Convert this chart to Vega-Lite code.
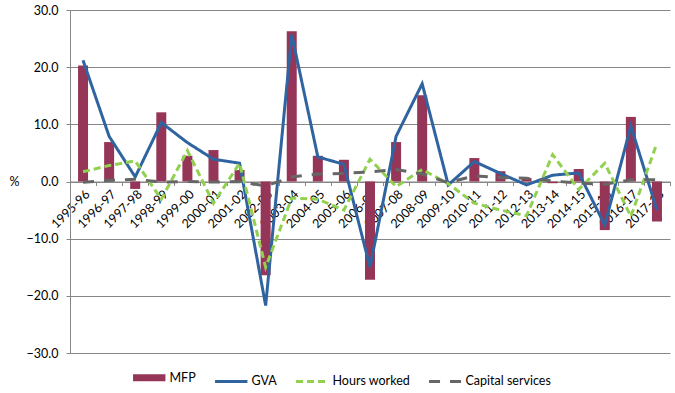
{
  "$schema": "https://vega.github.io/schema/vega-lite/v6.json",
  "width": 600,
  "height": 343,
  "autosize": {"type": "none"},
  "padding": {"left": 70, "top": 10, "right": 5, "bottom": 40},
  "config": {
    "font": "Lato",
    "view": {"stroke": null},
    "axis": {"labelFont": "Lato", "labelFontSize": 12.5, "labelColor": "#000000", "titleFont": "Lato", "titleFontWeight": "normal", "titleFontSize": 12.5, "titleColor": "#000000"},
    "legend": {"labelFont": "Lato", "labelFontSize": 12.5, "labelColor": "#000000"}
  },
  "data": {
    "values": [
      {"year": "1995-96", "series": "MFP", "value": 20.3},
      {"year": "1996-97", "series": "MFP", "value": 6.9},
      {"year": "1997-98", "series": "MFP", "value": -1.3},
      {"year": "1998-99", "series": "MFP", "value": 12.1},
      {"year": "1999-00", "series": "MFP", "value": 4.5},
      {"year": "2000-01", "series": "MFP", "value": 5.5},
      {"year": "2001-02", "series": "MFP", "value": 2.0},
      {"year": "2002-03", "series": "MFP", "value": -16.4},
      {"year": "2003-04", "series": "MFP", "value": 26.3},
      {"year": "2004-05", "series": "MFP", "value": 4.5},
      {"year": "2005-06", "series": "MFP", "value": 3.8},
      {"year": "2006-07", "series": "MFP", "value": -17.2},
      {"year": "2007-08", "series": "MFP", "value": 6.9},
      {"year": "2008-09", "series": "MFP", "value": 15.1},
      {"year": "2009-10", "series": "MFP", "value": 0.1},
      {"year": "2010-11", "series": "MFP", "value": 4.1},
      {"year": "2011-12", "series": "MFP", "value": 1.8},
      {"year": "2012-13", "series": "MFP", "value": 0.6},
      {"year": "2013-14", "series": "MFP", "value": -0.3},
      {"year": "2014-15", "series": "MFP", "value": 2.2},
      {"year": "2015-16", "series": "MFP", "value": -8.5},
      {"year": "2016-17", "series": "MFP", "value": 11.3},
      {"year": "2017-18", "series": "MFP", "value": -7.0},
      {"year": "1995-96", "series": "GVA", "value": 21.2},
      {"year": "1996-97", "series": "GVA", "value": 7.9},
      {"year": "1997-98", "series": "GVA", "value": 0.8},
      {"year": "1998-99", "series": "GVA", "value": 10.3},
      {"year": "1999-00", "series": "GVA", "value": 6.8},
      {"year": "2000-01", "series": "GVA", "value": 3.9},
      {"year": "2001-02", "series": "GVA", "value": 3.2},
      {"year": "2002-03", "series": "GVA", "value": -21.7},
      {"year": "2003-04", "series": "GVA", "value": 25.7},
      {"year": "2004-05", "series": "GVA", "value": 4.3},
      {"year": "2005-06", "series": "GVA", "value": 3.0},
      {"year": "2006-07", "series": "GVA", "value": -15.0},
      {"year": "2007-08", "series": "GVA", "value": 7.9},
      {"year": "2008-09", "series": "GVA", "value": 17.1},
      {"year": "2009-10", "series": "GVA", "value": -0.6},
      {"year": "2010-11", "series": "GVA", "value": 3.5},
      {"year": "2011-12", "series": "GVA", "value": 1.4},
      {"year": "2012-13", "series": "GVA", "value": -0.6},
      {"year": "2013-14", "series": "GVA", "value": 1.1},
      {"year": "2014-15", "series": "GVA", "value": 1.5},
      {"year": "2015-16", "series": "GVA", "value": -7.6},
      {"year": "2016-17", "series": "GVA", "value": 9.7},
      {"year": "2017-18", "series": "GVA", "value": -5.0},
      {"year": "1995-96", "series": "Hours worked", "value": 1.7},
      {"year": "1996-97", "series": "Hours worked", "value": 2.8},
      {"year": "1997-98", "series": "Hours worked", "value": 3.6},
      {"year": "1998-99", "series": "Hours worked", "value": -3.1},
      {"year": "1999-00", "series": "Hours worked", "value": 5.4},
      {"year": "2000-01", "series": "Hours worked", "value": -3.8},
      {"year": "2001-02", "series": "Hours worked", "value": 3.2},
      {"year": "2002-03", "series": "Hours worked", "value": -15.0},
      {"year": "2003-04", "series": "Hours worked", "value": -2.9},
      {"year": "2004-05", "series": "Hours worked", "value": -3.1},
      {"year": "2005-06", "series": "Hours worked", "value": -5.0},
      {"year": "2006-07", "series": "Hours worked", "value": 3.9},
      {"year": "2007-08", "series": "Hours worked", "value": -0.9},
      {"year": "2008-09", "series": "Hours worked", "value": 2.1},
      {"year": "2009-10", "series": "Hours worked", "value": -0.4},
      {"year": "2010-11", "series": "Hours worked", "value": -3.8},
      {"year": "2011-12", "series": "Hours worked", "value": -5.0},
      {"year": "2012-13", "series": "Hours worked", "value": -6.0},
      {"year": "2013-14", "series": "Hours worked", "value": 4.7},
      {"year": "2014-15", "series": "Hours worked", "value": -1.4},
      {"year": "2015-16", "series": "Hours worked", "value": 3.2},
      {"year": "2016-17", "series": "Hours worked", "value": -6.1},
      {"year": "2017-18", "series": "Hours worked", "value": 6.7},
      {"year": "1995-96", "series": "Capital services", "value": -0.15},
      {"year": "1996-97", "series": "Capital services", "value": 0.2},
      {"year": "1997-98", "series": "Capital services", "value": 0.4},
      {"year": "1998-99", "series": "Capital services", "value": -0.1},
      {"year": "1999-00", "series": "Capital services", "value": 0.0},
      {"year": "2000-01", "series": "Capital services", "value": -0.1},
      {"year": "2001-02", "series": "Capital services", "value": 0.0},
      {"year": "2002-03", "series": "Capital services", "value": -0.8},
      {"year": "2003-04", "series": "Capital services", "value": 0.8},
      {"year": "2004-05", "series": "Capital services", "value": 1.3},
      {"year": "2005-06", "series": "Capital services", "value": 1.4},
      {"year": "2006-07", "series": "Capital services", "value": 1.7},
      {"year": "2007-08", "series": "Capital services", "value": 2.1},
      {"year": "2008-09", "series": "Capital services", "value": 1.3},
      {"year": "2009-10", "series": "Capital services", "value": -0.2},
      {"year": "2010-11", "series": "Capital services", "value": 1.0},
      {"year": "2011-12", "series": "Capital services", "value": 0.7},
      {"year": "2012-13", "series": "Capital services", "value": 0.55},
      {"year": "2013-14", "series": "Capital services", "value": 0.1},
      {"year": "2014-15", "series": "Capital services", "value": -0.3},
      {"year": "2015-16", "series": "Capital services", "value": -0.5},
      {"year": "2016-17", "series": "Capital services", "value": 0.3},
      {"year": "2017-18", "series": "Capital services", "value": 0.3}
    ]
  },
  "encoding": {
    "x": {
      "field": "year", "type": "nominal", "sort": null, "title": null,
      "scale": {"paddingInner": 0, "paddingOuter": 0},
      "axis": {
        "labelAngle": -45, "offset": -171.5, "domainColor": "#868686", "tickColor": "#868686",
        "tickBand": "extent", "tickSize": 4, "labelPadding": 2, "grid": false
      }
    },
    "y": {
      "field": "value", "type": "quantitative", "title": "%",
      "scale": {"domain": [-30, 30], "nice": false, "zero": false},
      "axis": {
        "values": [-30, -20, -10, 0, 10, 20, 30], "format": ".1f",
        "titleAngle": 0, "titleAlign": "right", "titleBaseline": "middle", "titlePadding": 7,
        "domainColor": "#868686", "tickColor": "#868686", "tickSize": 4, "labelPadding": 8,
        "gridColor": "#868686", "gridWidth": 1
      }
    },
    "color": {
      "field": "series", "type": "nominal", "title": null,
      "scale": {
        "domain": ["MFP", "GVA", "Hours worked", "Capital services"],
        "range": ["#953558", "#2f64a0", "#92d050", "#666666"]
      },
      "legend": {
        "orient": "none", "legendX": 73, "legendY": 361, "direction": "horizontal",
        "symbolType": "stroke", "symbolSize": 1050, "symbolStrokeWidth": 3,
        "columnPadding": 13, "labelOffset": 14,
        "encode": {
          "symbols": {
            "update": {
              "stroke": {"scale": "color", "field": "value"},
              "strokeWidth": {"signal": "datum.value === 'MFP' ? 7 : 3"},
              "strokeDash": {"signal": "datum.value === 'Hours worked' ? [7, 4] : datum.value === 'Capital services' ? [11, 10] : [1, 0]"}
            }
          }
        }
      }
    }
  },
  "layer": [
    {
      "transform": [{"filter": "datum.series === 'MFP'"}],
      "mark": {"type": "bar", "size": 10}
    },
    {
      "transform": [{"filter": "datum.series !== 'MFP'"}],
      "mark": {"type": "line", "strokeWidth": 3},
      "encoding": {
        "strokeDash": {
          "field": "series", "type": "nominal", "legend": null,
          "scale": {"domain": ["GVA", "Hours worked", "Capital services"], "range": [[1, 0], [7, 4], [11, 10]]}
        }
      }
    }
  ]
}
